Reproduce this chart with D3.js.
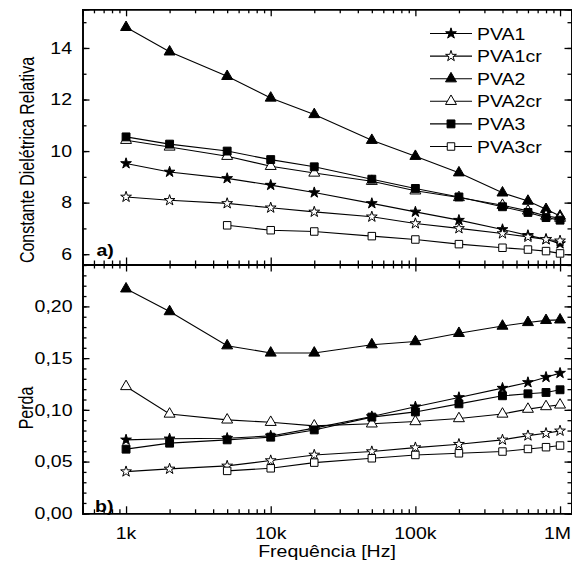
<!DOCTYPE html>
<html>
<head>
<meta charset="utf-8">
<script src="https://cdn.jsdelivr.net/npm/d3@7"></script>
<style>
  body { margin: 0; background: #fff; }
  text { font-family: "Liberation Sans", Arial, sans-serif; fill: #000; }
</style>
</head>
<body>
<div id="chart"></div>
<script>
const freq = [1e3, 2e3, 5e3, 1e4, 2e4, 5e4, 1e5, 2e5, 4e5, 6e5, 8e5, 1e6];
const seriesNames = ["PVA1", "PVA1cr", "PVA2", "PVA2cr", "PVA3", "PVA3cr"];

// constante dielétrica (painel a)
const constPVA1   = [9.52, 9.19, 8.94, 8.68, 8.39, 7.97, 7.64, 7.32, 6.96, 6.73, 6.58, 6.41];
const constPVA1cr = [8.22, 8.09, 7.97, 7.80, 7.64, 7.45, 7.19, 7.00, 6.80, 6.67, 6.57, 6.52];
const constPVA2   = [14.80, 13.85, 12.90, 12.06, 11.42, 10.42, 9.80, 9.16, 8.38, 8.06, 7.74, 7.48];
const constPVA2cr = [10.42, 10.16, 9.80, 9.41, 9.15, 8.83, 8.46, 8.20, 7.90, 7.68, 7.48, 7.40];
const constPVA3   = [10.55, 10.27, 10.00, 9.67, 9.39, 8.91, 8.55, 8.22, 7.84, 7.62, 7.42, 7.32];
const constPVA3cr = [null, null, 7.12, 6.93, 6.88, 6.70, 6.57, 6.39, 6.25, 6.18, 6.12, 6.03];

// perda (painel b)
const lossPVA1   = [0.071, 0.072, 0.0726, 0.0748, 0.0823, 0.0935, 0.103, 0.112, 0.121, 0.1265, 0.1316, 0.1355];
const lossPVA1cr = [0.0403, 0.0429, 0.0458, 0.051, 0.0564, 0.0597, 0.0635, 0.0668, 0.071, 0.0751, 0.0774, 0.0797];
const lossPVA2   = [0.217, 0.195, 0.162, 0.155, 0.155, 0.163, 0.166, 0.174, 0.181, 0.1845, 0.1865, 0.187];
const lossPVA2cr = [0.1226, 0.096, 0.0903, 0.088, 0.0845, 0.0865, 0.0887, 0.0916, 0.096, 0.1007, 0.1032, 0.1048];
const lossPVA3   = [0.062, 0.0678, 0.071, 0.0736, 0.0806, 0.093, 0.098, 0.1058, 0.1136, 0.1155, 0.1168, 0.1194];
const lossPVA3cr = [null, null, 0.041, 0.0435, 0.049, 0.0532, 0.0564, 0.058, 0.0597, 0.0622, 0.0639, 0.0655];

const xMajor = [1e3, 1e4, 1e5, 1e6];
const xLabels = ["1k", "10k", "100k", "1M"];
const constTicks = [6, 8, 10, 12, 14];
const lossTicks = [0, 0.05, 0.10, 0.15, 0.20];

const width = 572, height = 565;
const stretch = 1.22;

const svg = d3.select("#chart").append("svg")
  .attr("width", width)
  .attr("height", height);

const x = d3.scaleLog().domain([500, 1.2e6]).range([82.5, 571.5]);
const yTop = d3.scaleLinear().domain([5.6, 15.5]).range([264.5, 9.3]);
const yBot = d3.scaleLinear().domain([0, 0.2405]).range([513.3, 264.5]);

const xMinor = [];
[100, 1e3, 1e4, 1e5].forEach(d => {
  for (let k = 2; k <= 9; k++) {
    const v = k * d;
    if (v > 500 && v < 1.2e6) xMinor.push(v);
  }
});

const symbols = {
  PVA1: { type: d3.symbolStar, size: 36, fill: "#000" },
  PVA1cr: { type: d3.symbolStar, size: 36, fill: "#fff" },
  PVA2: { type: d3.symbolTriangle, size: 52, fill: "#000" },
  PVA2cr: { type: d3.symbolTriangle, size: 52, fill: "#fff" },
  PVA3: { type: d3.symbolSquare, size: 62, fill: "#000" },
  PVA3cr: { type: d3.symbolSquare, size: 56, fill: "#fff" }
};

function stretchedText(g, tx, ty, str, anchor, size, weight) {
  return g.append("text")
    .attr("transform", `translate(${tx},${ty}) scale(${stretch},1)`)
    .attr("text-anchor", anchor)
    .style("font-size", size + "px")
    .style("font-weight", weight || "normal")
    .text(str);
}

function drawFrame(y, minorY, majorY) {
  const [x0, x1] = x.range();
  const [yb, yt] = y.range();
  const axes = [
    { axis: d3.axisTop(x), tr: `translate(0,${yb})`, vals: [xMajor, xMinor] },
    { axis: d3.axisBottom(x), tr: `translate(0,${yt})`, vals: [xMajor, xMinor] },
    { axis: d3.axisRight(y), tr: `translate(${x0},0)`, vals: [majorY, minorY] },
    { axis: d3.axisLeft(y), tr: `translate(${x1},0)`, vals: [majorY, minorY] }
  ];
  axes.forEach(a => {
    [0, 1].forEach(i => {
      const g = svg.append("g")
        .attr("transform", a.tr)
        .call(a.axis.tickValues(a.vals[i]).tickSize(i === 0 ? 7 : 4).tickFormat(""));
      g.selectAll(".tick line").attr("stroke-width", 1.3);
      g.select(".domain").attr("stroke-width", 1.6);
    });
  });
}

function drawSeries(y, list) {
  const line = d3.line()
    .x(d => x(d[0]))
    .y(d => y(d[1]));
  list.forEach(s => {
    const pts = freq.map((f, i) => [f, s.values[i]]).filter(d => d[1] != null);
    svg.append("path")
      .datum(pts)
      .attr("fill", "none")
      .attr("stroke", "#000")
      .attr("stroke-width", 1.1)
      .attr("d", line);
  });
  list.forEach(s => {
    const sym = symbols[s.name];
    const pts = freq.map((f, i) => [f, s.values[i]]).filter(d => d[1] != null);
    svg.append("g").selectAll("path")
      .data(pts)
      .join("path")
      .attr("transform", d => `translate(${x(d[0])},${y(d[1])})`)
      .attr("d", d3.symbol().type(sym.type).size(sym.size))
      .attr("fill", sym.fill)
      .attr("stroke", "#000")
      .attr("stroke-width", 1);
  });
}

// painel a
drawFrame(yTop, d3.range(6, 16), constTicks);
drawSeries(yTop, [
  { name: "PVA1", values: constPVA1 },
  { name: "PVA1cr", values: constPVA1cr },
  { name: "PVA2", values: constPVA2 },
  { name: "PVA2cr", values: constPVA2cr },
  { name: "PVA3", values: constPVA3 },
  { name: "PVA3cr", values: constPVA3cr }
]);

// painel b
drawFrame(yBot, d3.range(0, 25).map(i => i / 100), lossTicks);
drawSeries(yBot, [
  { name: "PVA1", values: lossPVA1 },
  { name: "PVA1cr", values: lossPVA1cr },
  { name: "PVA2", values: lossPVA2 },
  { name: "PVA2cr", values: lossPVA2cr },
  { name: "PVA3", values: lossPVA3 },
  { name: "PVA3cr", values: lossPVA3cr }
]);

// tick labels
const labels = svg.append("g");
constTicks.forEach(v => stretchedText(labels, 72, yTop(v) + 5.8, v, "end", 16));
lossTicks.forEach(v => stretchedText(labels, 72.5, yBot(v) + 5.8, d3.format(".2f")(v).replace(".", ","), "end", 16));
xMajor.forEach((v, i) => {
  if (i === xMajor.length - 1) stretchedText(labels, 571, 538.5, xLabels[i], "end", 16);
  else stretchedText(labels, x(v), 538.5, xLabels[i], "middle", 16);
});

// axis titles
stretchedText(labels, 327, 557, "Frequência [Hz]", "middle", 16);
labels.append("text")
  .attr("transform", `translate(33.5,160) rotate(-90) scale(1,${stretch})`)
  .attr("text-anchor", "middle")
  .style("font-size", "16px")
  .text("Constante Dielétrica Relativa");
labels.append("text")
  .attr("transform", `translate(33,408) rotate(-90) scale(1,${stretch})`)
  .attr("text-anchor", "middle")
  .style("font-size", "16px")
  .text("Perda");

// panel tags
stretchedText(labels, 96.5, 256, "a)", "start", 16, "bold");
stretchedText(labels, 95, 511.5, "b)", "start", 16, "bold");

// legend
const legend = svg.append("g");
seriesNames.forEach((name, i) => {
  const ly = 33.5 + i * 22.6;
  const sym = symbols[name];
  legend.append("line")
    .attr("x1", 430).attr("x2", 472)
    .attr("y1", ly).attr("y2", ly)
    .attr("stroke", "#000").attr("stroke-width", 1.1);
  legend.append("path")
    .attr("transform", `translate(451,${ly})`)
    .attr("d", d3.symbol().type(sym.type).size(sym.size))
    .attr("fill", sym.fill)
    .attr("stroke", "#000")
    .attr("stroke-width", 1);
  stretchedText(legend, 477, ly + 6, name, "start", 16);
});
</script>
</body>
</html>
